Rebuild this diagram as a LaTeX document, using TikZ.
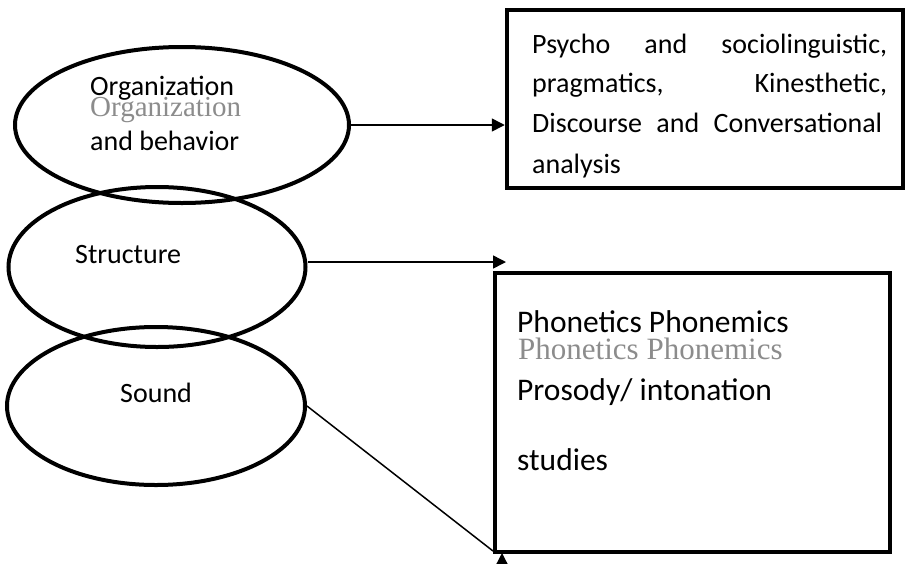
\documentclass[tikz,border=0pt]{standalone}
\usepackage{fontspec}
\setmainfont{Carlito}
\newfontfamily\ghostfont{Liberation Serif}
\usetikzlibrary{shapes.geometric,arrows.meta}
\begin{document}
\begin{tikzpicture}[x=1pt,y=-1pt,
  oval/.style={draw=black,line width=4pt,ellipse,inner sep=0pt},
  boxnode/.style={draw=black,line width=4.5pt,rectangle,inner sep=0pt},
  txt/.style={anchor=base west,inner sep=0pt,font=\fontsize{28}{34}\selectfont},
  bigtxt/.style={txt,font=\fontsize{31.5}{38}\selectfont},
  ghost/.style={anchor=base west,inner sep=0pt,text=black!45,font=\ghostfont\fontsize{29}{34}\selectfont},
  conn/.style={line width=1.5pt},
  arr/.style={line width=1.5pt,-{Triangle[length=13pt,width=13pt]}}]
\useasboundingbox (0,0) rectangle (907,563);
% ellipses
\node[oval,minimum width=334,minimum height=156] (org) at (182,125) {};
\node[oval,minimum width=297,minimum height=160] (struct) at (157,267) {};
\node[oval,minimum width=298,minimum height=158] (sound) at (156,406) {};
% boxes
\node[boxnode,minimum width=396,minimum height=178] (box1) at (705,99) {};
\node[boxnode,minimum width=395,minimum height=279] (box2) at (692.5,412.5) {};
% ellipse texts
\node[ghost] (orgghost) at (90,116) {Organization};
\node[txt] (orgt1) at (90,95) {Organization};
\node[txt] (orgt2) at (90,150) {and behavior};
\node[txt] (structt) at (75,263) {Structure};
\node[txt] (soundt) at (120,402) {Sound};
% box 1 text
\node[txt] (b1l1) at (532,53) {\makebox[355pt][s]{Psycho and sociolinguistic,}};
\node[txt] (b1l2) at (532,92) {\makebox[355pt][s]{pragmatics, Kinesthetic,}};
\node[txt] (b1l3) at (532,132) {\makebox[350pt][s]{Discourse and Conversational}};
\node[txt] (b1l4) at (532,173) {analysis};
% box 2 text
\node[ghost,font=\ghostfont\fontsize{31}{36}\selectfont] (b2ghost) at (518,359) {Phonetics Phonemics};
\node[bigtxt] (b2l1) at (517,332) {Phonetics Phonemics};
\node[bigtxt] (b2l2) at (517,400) {Prosody/ intonation};
\node[bigtxt] (b2l3) at (517,470) {studies};
% connectors
\coordinate (a2end) at (506,262);
\coordinate (a3end) at (493,551);
\coordinate (a3tip) at (502,553);
\coordinate (a3tail) at (502,580);
\draw[arr] (org.east) -- (org.east -| box1.west);
\draw[arr] (struct.east |- a2end) -- (a2end);
\draw[conn] (sound.east) -- (a3end);
\draw[arr] (a3tail) -- (a3tip);
\end{tikzpicture}
\end{document}
